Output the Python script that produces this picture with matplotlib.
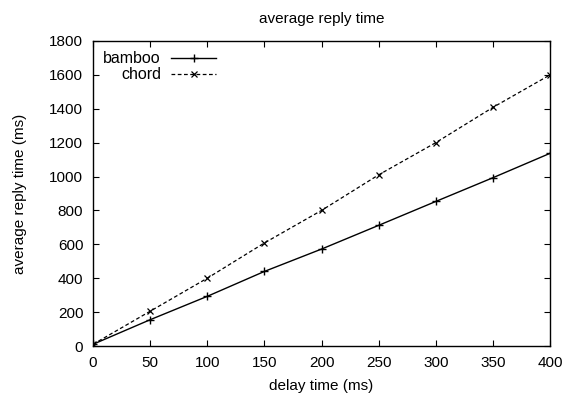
import matplotlib
matplotlib.use("Agg")
import matplotlib.pyplot as plt

delay = [0, 50, 100, 150, 200, 250, 300, 350, 400]
bamboo = [10, 155, 293, 440, 572, 712, 853, 993, 1137]
chord = [10, 205, 400, 608, 800, 1010, 1200, 1408, 1600]
xticks = [0, 50, 100, 150, 200, 250, 300, 350, 400]
yticks = [0, 200, 400, 600, 800, 1000, 1200, 1400, 1600, 1800]

plt.rcParams['font.family'] = ['Liberation Sans', 'DejaVu Sans']
plt.rcParams['font.size'] = 11

fig = plt.figure(figsize=(5.71, 3.96), dpi=100)
ax = fig.add_axes([93/571, 1-346/396, (550-93)/571, (346-41)/396])

ax.plot(delay, bamboo, color='black', lw=1.0, marker='+', ms=6, mew=1.0, label='bamboo')
ax.plot(delay, chord, color='black', lw=0.9, ls=(0, (3, 2)), marker='x', ms=5, mew=0.9, label='chord')

ax.set_xlim(0, 400)
ax.set_ylim(0, 1800)
ax.set_xticks(xticks)
ax.set_yticks(yticks)
ax.tick_params(direction='in', top=True, right=True, length=4, width=0.8, pad=7, labelsize=11)
for s in ax.spines.values():
    s.set_linewidth(1.0)

ax.set_xlabel('delay time (ms)', labelpad=7)
ax.set_ylabel('average reply time (ms)', labelpad=16)
ax.set_title('average reply time', fontsize=11, pad=13)

leg = ax.legend(loc='upper left', markerfirst=False, frameon=False, handlelength=2.8,
                handletextpad=0.65, borderaxespad=0.25, labelspacing=0.05, fontsize=11.5)
try:
    for col in leg._legend_handle_box.get_children():
        col.align = 'right'
except Exception:
    pass

fig.savefig('out.png', dpi=100)
